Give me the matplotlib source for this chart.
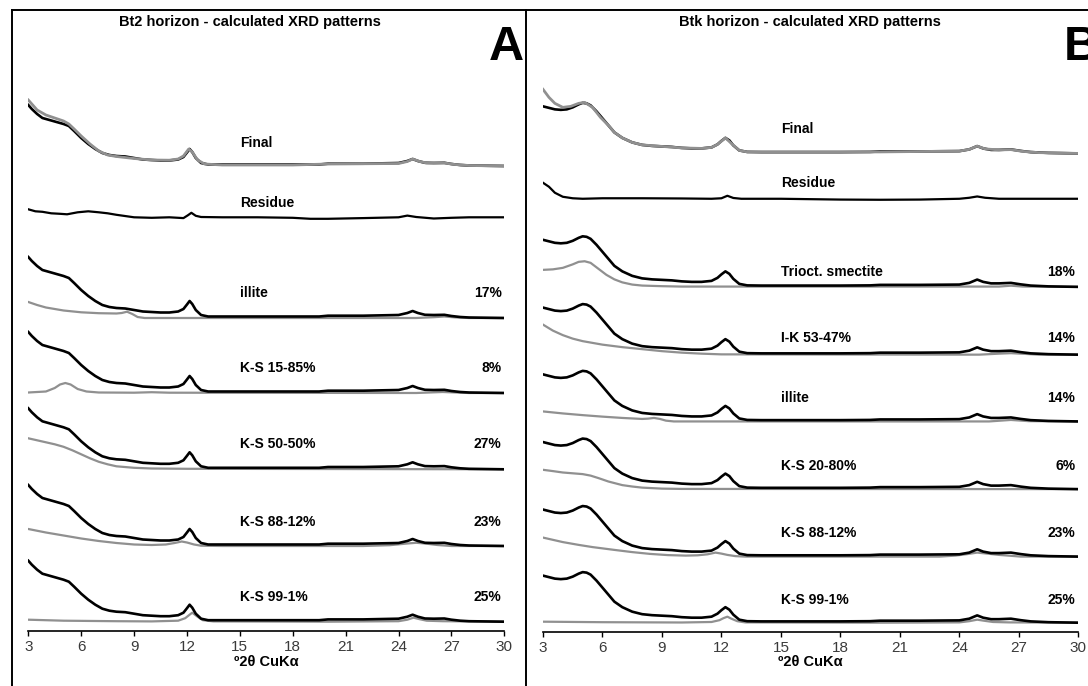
import matplotlib
matplotlib.use("Agg")
import matplotlib.pyplot as plt
from matplotlib.lines import Line2D

plt.rcParams["font.family"] = ["Liberation Sans", "DejaVu Sans"]

# ---- Bt2 horizon (panel A), intensities in arbitrary units ----
exp_a_x = [3.0, 3.2, 3.5, 3.8, 4.2, 4.6, 5.0, 5.3, 5.6, 6.0, 6.4, 6.8, 7.2, 7.6, 8.0, 8.5, 9.0,
           9.5, 10.0, 10.5, 11.0, 11.5, 11.8, 12.0, 12.15, 12.3, 12.5, 12.8, 13.2, 14, 16, 18,
           19.5, 20, 22, 24, 24.5, 24.8, 25.1, 25.5, 26.0, 26.6, 27.0, 27.5, 28, 30]
exp_a_y = [61, 57, 52, 48, 46, 44, 42, 40, 35, 28, 22, 17, 13, 11, 10, 9.5, 8,
           6.5, 6, 5.5, 5.5, 6.5, 9, 13.5, 17, 14, 8, 3, 1.5, 1.5, 1.5, 1.5,
           1.5, 2.3, 2.3, 3, 5, 7, 5, 3.2, 3, 3.2, 2, 1, 0.5, 0]

calc_a_x = [3, 3.5, 4, 4.5, 5, 5.3, 5.6, 6, 6.5, 7, 7.5, 8, 9, 10, 11, 11.5, 11.8, 12.1, 12.3,
            12.6, 13, 14, 18, 20, 24, 24.5, 24.8, 25.2, 25.6, 26.6, 27.2, 28, 30]
calc_a_y = [66, 56, 51, 48, 45, 42, 37, 30, 22, 15, 11, 9.5, 7.5, 6, 5.8, 7, 10, 17, 14,
            6, 2, 1, 1, 2, 2.5, 4.5, 7, 4.5, 3, 3, 1.5, 0.5, 0]

res_a_x = [3, 3.4, 3.8, 4.3, 4.8, 5.2, 5.8, 6.4, 7, 7.5, 8, 9, 10, 11, 11.8, 12.05, 12.25,
           12.5, 12.8, 14, 16, 18, 19, 20, 22, 24, 24.5, 25, 26, 27, 28, 30]
res_a_y = [8, 6, 5.5, 4, 3.5, 3, 5, 6, 5, 4, 2.5, 0, -0.5, 0, -0.8, 2, 4.5,
           1.5, 0.3, 0, 0, -0.5, -1.5, -1.5, -0.8, 0, 1.7, 0.3, -1.2, -0.5, 0, 0]

ill_a_x = [3, 3.5, 4, 5, 6, 7, 8, 8.3, 8.6, 8.9, 9.2, 9.6, 25, 26, 26.6, 27.2, 28, 30]
ill_a_y = [16, 13, 10.5, 7.5, 5.7, 4.8, 4.5, 5, 6.3, 4, 1, 0, 0, 0.8, 1.5, 0.6, 0, 0]

ks1585_a_x = [3, 4, 4.5, 4.8, 5.1, 5.4, 5.8, 6.3, 7, 9, 10, 11, 25, 26.5, 28, 30]
ks1585_a_y = [0.5, 1.5, 5, 8.5, 10, 8.5, 4, 1.5, 0.5, 0.3, 0.8, 0.3, 0, 1, 0, 0]

ks5050_a_x = [3, 3.5, 4, 4.5, 5, 5.5, 6, 6.5, 7, 7.5, 8, 9, 10, 12, 30]
ks5050_a_y = [31, 29, 27, 25, 22.5, 19, 15, 11, 7.5, 5, 3, 1.5, 0.8, 0.5, 0]

ks8812_a_x = [3, 4, 5, 6, 7, 8, 9, 10, 10.8, 11.3, 11.7, 12.0, 12.4, 12.8, 14, 22, 23.5,
              24.5, 25, 25.5, 26.2, 27, 28, 30]
ks8812_a_y = [17, 13.5, 10.5, 7.5, 5, 3, 1.5, 1, 1.5, 3, 4.5, 3.5, 1.5, 0.3, 0, 0, 0.8,
              2.5, 3.2, 2.5, 1, 0, 0, 0]

ks991_a_x = [3, 5, 8, 10, 11.5, 11.9, 12.15, 12.3, 12.6, 12.9, 13.5, 20, 24, 24.5, 24.85,
             25.2, 25.6, 26.5, 30]
ks991_a_y = [2, 1, 0.5, 0.3, 1, 3.5, 7, 9, 5, 1.5, 0.3, 0, 0.5, 2, 4, 2.5, 1, 0.5, 0]

labels_a = ["illite", "K-S 15-85%", "K-S 50-50%", "K-S 88-12%", "K-S 99-1%"]
pct_a = ["17%", "8%", "27%", "23%", "25%"]

# ---- Btk horizon (panel B) ----
exp_b_x = [3.0, 3.3, 3.6, 3.9, 4.2, 4.5, 4.8, 5.0, 5.2, 5.4, 5.7, 6.0, 6.3, 6.6, 7.0, 7.5,
           8.0, 8.5, 9.0, 9.5, 10, 10.5, 11, 11.5, 11.8, 12.0, 12.2, 12.4, 12.6, 12.9, 13.3,
           14, 16, 18, 19.5, 20, 22, 24, 24.5, 24.9, 25.2, 25.6, 26.0, 26.6, 27.1, 27.6,
           28.5, 30]
exp_b_y = [47, 45.5, 44, 43.5, 44, 46, 49, 50.5, 50, 48, 42, 35, 28, 21, 15.5, 11,
           8.5, 7.5, 7, 6.5, 5.5, 5, 5, 6, 9, 12.5, 15.5, 13, 8, 3, 1.5,
           1.3, 1.3, 1.3, 1.5, 2, 2, 2.3, 4, 7.3, 5, 3.5, 3.5, 4, 2.5, 1.3,
           0.5, 0]

calc_b_x = [3, 3.3, 3.6, 4.0, 4.4, 4.8, 5.1, 5.5, 5.9, 6.3, 6.6, 7, 7.5, 8, 9, 10, 11, 11.5,
            11.8, 12.2, 12.5, 12.9, 13.3, 20, 24, 24.5, 24.9, 25.3, 26.0, 26.6, 27.2, 28, 30]
calc_b_y = [64, 56, 50, 46, 47, 50, 51, 46, 36, 28, 21, 15.5, 11, 8.5, 7, 5.5, 5, 6,
            9, 15.5, 10, 3, 1.5, 1.5, 2.3, 4, 7.3, 4.5, 3.5, 3.8, 2, 0.8, 0]

res_b_x = [3, 3.3, 3.6, 4.0, 4.5, 5, 6, 8, 10, 11.5, 12.0, 12.3, 12.6, 13, 15, 18, 20, 22,
           24, 24.5, 24.9, 25.3, 26, 28, 30]
res_b_y = [16, 12, 6, 2, 0.5, 0, 0.5, 0.5, 0.3, 0, 0.5, 3, 0.8, 0, 0, -0.8, -1, -0.8,
           0, 1, 2.3, 1, 0, 0, 0]

tri_b_x = [3, 3.5, 4, 4.5, 4.8, 5.1, 5.4, 5.8, 6.2, 6.6, 7, 7.5, 8, 9, 10, 26, 26.6, 27.2, 30]
tri_b_y = [17, 17.5, 19, 22.5, 25, 25.6, 24, 18, 12, 7.5, 4.5, 2.3, 1.3, 0.7, 0.3, 0.3, 1.2, 0.3, 0]

ik_b_x = [3, 3.5, 4, 4.5, 5, 6, 7, 8, 9, 10, 11, 12, 25, 26, 26.6, 27.3, 28, 30]
ik_b_y = [30, 24, 19.5, 16, 13.5, 10, 7.5, 5.5, 3.5, 2, 1, 0.3, 0, 1, 1.5, 0.8, 0, 0]

ill_b_x = [3, 4, 5, 6, 7, 8, 8.3, 8.6, 8.9, 9.2, 9.6, 25.5, 26.6, 27.5, 30]
ill_b_y = [10, 8, 6.3, 4.8, 3.5, 2.5, 2.8, 3.5, 2.5, 0.8, 0, 0, 1.5, 0.3, 0]

ks2080_b_x = [3, 3.5, 4, 4.5, 5, 5.4, 5.8, 6.3, 7, 7.5, 8, 9, 10, 30]
ks2080_b_y = [19.3, 18, 16.6, 15.8, 15, 13.5, 11, 7.6, 4, 2.6, 1.5, 0.5, 0.2, 0]

ks8812_b_x = [3, 4, 4.8, 5.5, 6.6, 7.5, 8.4, 9.3, 10.2, 10.8, 11.3, 11.7, 12.0, 12.3, 12.7,
              13.2, 23, 23.8, 24.4, 24.9, 25.4, 26, 26.6, 27.1, 28, 30]
ks8812_b_y = [19, 14.5, 11.7, 9.5, 6.7, 4.5, 2.7, 1.5, 1, 1.3, 2.3, 4, 3, 1.7, 0.5,
              0, 0, 1, 2.5, 4, 3, 1.7, 0.8, 0, 0, 0]

ks991_b_x = [3, 6, 10, 11.5, 11.9, 12.1, 12.3, 12.5, 12.8, 13.2, 20, 24, 24.5, 24.9, 25.3,
             25.7, 26.5, 30]
ks991_b_y = [1, 0.5, 0.2, 0.7, 2.5, 4.5, 6, 4, 1.5, 0.3, 0, 0.3, 1.5, 3, 1.8, 0.7, 0.3, 0]

labels_b = ["Trioct. smectite", "I-K 53-47%", "illite", "K-S 20-80%", "K-S 88-12%", "K-S 99-1%"]
pct_b = ["18%", "14%", "14%", "6%", "23%", "25%"]

ticks = [3, 6, 9, 12, 15, 18, 21, 24, 27, 30]

W, H = 1088, 686
BLACK = "#000000"
GRAY = "#909090"


def fx(px):
    return px / W


def fy(py):
    return 1 - py / H


def draw_panel(ax, exp, calc, res, comps, names, pcts, offsets, gaps):
    # offsets: baseline of each row above the axis line (px); rows top to bottom
    ex, ey = exp
    # Final
    o = offsets[0]
    ax.plot(ex, [v + o for v in ey], color=BLACK, lw=1.9)
    ax.plot(calc[0], [v + o for v in calc[1]], color=GRAY, lw=2.0)
    ax.text(15.0, o + gaps[0], "Final", fontsize=10, fontweight="bold", va="center")
    # Residue
    o = offsets[1]
    ax.plot(res[0], [v + o for v in res[1]], color=BLACK, lw=1.6)
    ax.text(15.0, o + gaps[1], "Residue", fontsize=10, fontweight="bold", va="center")
    # components
    for i, (cx, cy) in enumerate(comps):
        o = offsets[i + 2]
        ax.plot(cx, [v + o for v in cy], color=GRAY, lw=1.6)
        ax.plot(ex, [v + o for v in ey], color=BLACK, lw=1.9)
        ax.text(15.0, o + gaps[i + 2], names[i], fontsize=10, fontweight="bold", va="center")
        ax.text(29.85, o + gaps[i + 2], pcts[i], fontsize=10, fontweight="bold",
                va="center", ha="right")

    ax.set_xlim(3, 30)
    ax.set_ylim(0, 571)
    ax.set_xticks(ticks)
    ax.set_yticks([])
    for s in ["left", "right", "top"]:
        ax.spines[s].set_visible(False)
    ax.spines["bottom"].set_linewidth(1.2)
    ax.tick_params(axis="x", direction="out", length=3.5, width=1, pad=3,
                   labelsize=11, labelcolor="#3a3a3a")
    ax.patch.set_alpha(0)


fig = plt.figure(figsize=(W / 100, H / 100), dpi=100)

ax_a = fig.add_axes([fx(28.3), fy(631), fx(504.3) - fx(28.3), (631 - 60) / H])
draw_panel(ax_a, (exp_a_x, exp_a_y), (calc_a_x, calc_a_y), (res_a_x, res_a_y),
           [(ill_a_x, ill_a_y), (ks1585_a_x, ks1585_a_y), (ks5050_a_x, ks5050_a_y),
            (ks8812_a_x, ks8812_a_y), (ks991_a_x, ks991_a_y)],
           labels_a, pct_a,
           [465, 413.7, 313, 238, 161.7, 85, 9.3],
           [23, 14, 24.7, 24.7, 25, 23.7, 25])

ax_b = fig.add_axes([fx(543), fy(631.7), fx(1078.3) - fx(543), (631.7 - 60) / H])
draw_panel(ax_b, (exp_b_x, exp_b_y), (calc_b_x, calc_b_y), (res_b_x, res_b_y),
           [(tri_b_x, tri_b_y), (ik_b_x, ik_b_y), (ill_b_x, ill_b_y),
            (ks2080_b_x, ks2080_b_y), (ks8812_b_x, ks8812_b_y), (ks991_b_x, ks991_b_y)],
           labels_b, pct_b,
           [477.7, 432.4, 344.4, 276.7, 210, 142.4, 75, 9],
           [24, 16, 15, 16.5, 23.4, 23, 23.4, 22.7])

# titles, panel letters, axis labels
fig.text(fx(250), fy(26), "Bt2 horizon - calculated XRD patterns", fontsize=10.5,
         fontweight="bold", ha="center", va="baseline")
fig.text(fx(810), fy(26), "Btk horizon - calculated XRD patterns", fontsize=10.5,
         fontweight="bold", ha="center", va="baseline")
fig.text(fx(506), fy(60), "A", fontsize=35, fontweight="bold", ha="center", va="baseline")
fig.text(fx(1064), fy(60), "B", fontsize=35, fontweight="bold", ha="left", va="baseline")
fig.text(fx(266), fy(666), "º2θ CuKα", fontsize=10.5, fontweight="bold", ha="center",
         va="baseline")
fig.text(fx(810), fy(666), "º2θ CuKα", fontsize=10.5, fontweight="bold", ha="center",
         va="baseline")

# panel frame
frame = dict(color=BLACK, lw=1.4, transform=fig.transFigure)
fig.add_artist(Line2D([fx(12), fx(12)], [fy(10), 0], **frame))
fig.add_artist(Line2D([fx(12), 1], [fy(10), fy(10)], **frame))
fig.add_artist(Line2D([fx(525.5), fx(525.5)], [fy(10), 0], **frame))

fig.savefig("out.png", dpi=100)
